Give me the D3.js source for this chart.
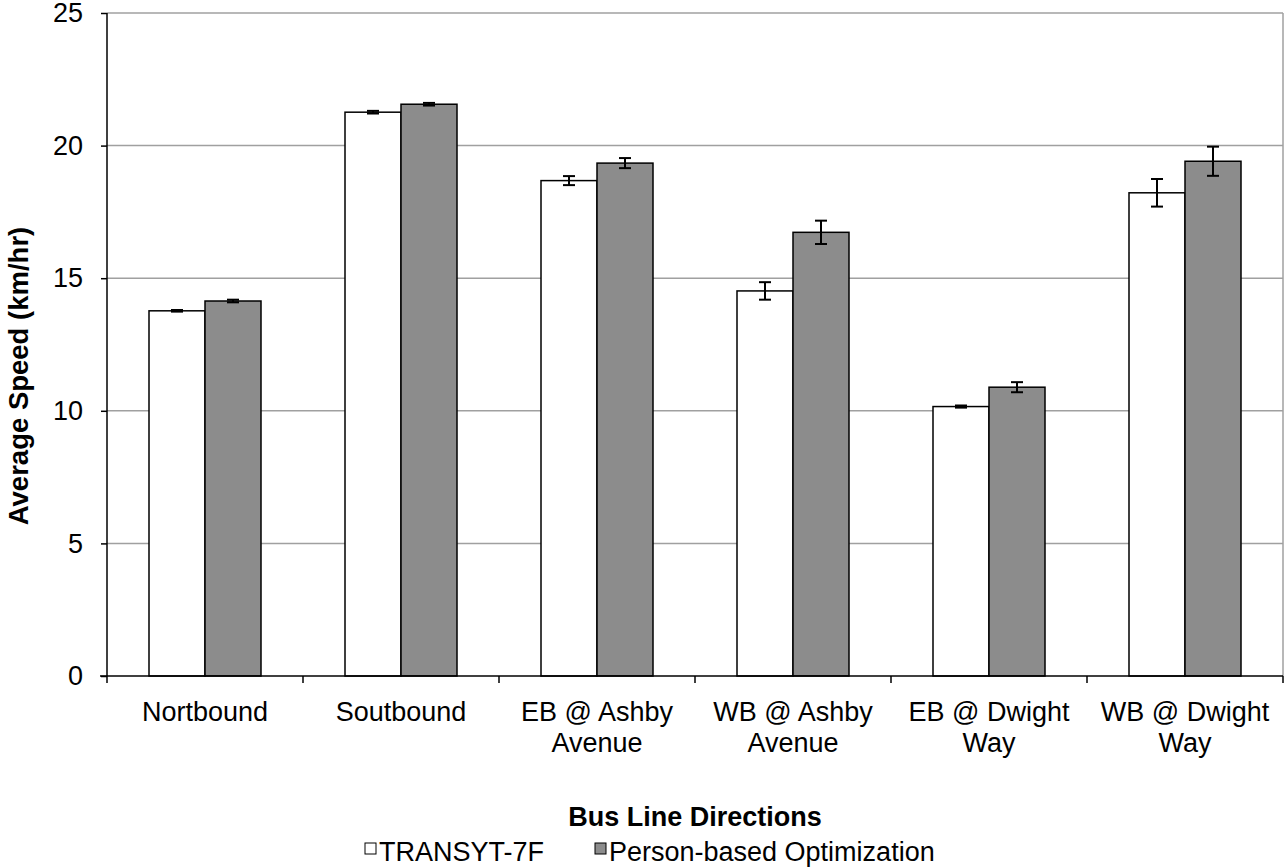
<!DOCTYPE html>
<html>
<head>
<meta charset="utf-8">
<script src="https://cdn.jsdelivr.net/npm/d3@7"></script>
<style>
  html, body { margin: 0; padding: 0; background: #fff; }
  svg { display: block; font-family: "Liberation Sans", Arial, sans-serif; }
</style>
</head>
<body>
<svg id="chart" width="1286" height="867"></svg>
<script>
const categories = [["Nortbound"], ["Soutbound"], ["EB @ Ashby", "Avenue"], ["WB @ Ashby", "Avenue"], ["EB @ Dwight", "Way"], ["WB @ Dwight", "Way"]];
const seriesNames = ["TRANSYT-7F", "Person-based Optimization"];
const transytValues = [13.77, 21.26, 18.68, 14.52, 10.16, 18.22];
const transytErrors = [0.03, 0.05, 0.17, 0.33, 0.04, 0.52];
const personValues = [14.14, 21.56, 19.34, 16.73, 10.89, 19.41];
const personErrors = [0.05, 0.05, 0.19, 0.44, 0.19, 0.55];
const yTicks = [0, 5, 10, 15, 20, 25];
const seriesColors = ["#ffffff", "#8c8c8c"];

const FS = 27;
const svg = d3.select("#chart");
const m = { left: 107, top: 13, right: 1283, bottom: 676 };

const catKeys = categories.map((c, i) => i);
const x = d3.scaleBand().domain(catKeys).range([m.left, m.right]).paddingInner(0).paddingOuter(0);
const inner = d3.scaleBand().domain([0, 1]).range([0, x.bandwidth()]).paddingOuter(0.75).paddingInner(0);
const y = d3.scaleLinear().domain([0, 25]).range([m.bottom, m.top]);

// gridlines
svg.append("g").selectAll("line").data(yTicks.filter(t => t > 0)).join("line")
  .attr("x1", m.left).attr("x2", m.right)
  .attr("y1", d => y(d)).attr("y2", d => y(d))
  .attr("stroke", "#a0a0a0").attr("stroke-width", 1.5);
// right border
svg.append("line").attr("x1", m.right).attr("x2", m.right).attr("y1", m.top).attr("y2", m.bottom)
  .attr("stroke", "#a0a0a0").attr("stroke-width", 1.5);

const series = [
  { vals: transytValues, errs: transytErrors, color: seriesColors[0] },
  { vals: personValues, errs: personErrors, color: seriesColors[1] }
];

series.forEach((s, si) => {
  svg.append("g").selectAll("rect").data(s.vals).join("rect")
    .attr("x", (d, i) => x(i) + inner(si))
    .attr("y", d => y(d))
    .attr("width", inner.bandwidth())
    .attr("height", d => y(0) - y(d))
    .attr("fill", s.color).attr("stroke", "#000").attr("stroke-width", 1.5);
});

series.forEach((s, si) => {
  const g = svg.append("g").attr("stroke", "#000").attr("stroke-width", 2);
  s.vals.forEach((v, i) => {
    const cx = x(i) + inner(si) + inner.bandwidth() / 2;
    const e = s.errs[i];
    g.append("line").attr("x1", cx).attr("x2", cx).attr("y1", y(v + e)).attr("y2", y(v - e));
    g.append("line").attr("x1", cx - 6).attr("x2", cx + 6).attr("y1", y(v + e)).attr("y2", y(v + e));
    g.append("line").attr("x1", cx - 6).attr("x2", cx + 6).attr("y1", y(v - e)).attr("y2", y(v - e));
  });
});

// y axis
const yAxis = svg.append("g").attr("transform", `translate(${m.left},0)`)
  .call(d3.axisLeft(y).tickValues(yTicks).tickSize(6).tickPadding(18));
yAxis.select(".domain").attr("stroke", "#000").attr("stroke-width", 1.5).attr("d", `M0,${m.top}V${m.bottom}`);
yAxis.selectAll(".tick line").attr("stroke", "#000").attr("stroke-width", 1.5);
yAxis.selectAll(".tick text").attr("font-size", FS).attr("fill", "#000")
  .attr("font-family", "Liberation Sans, Arial, sans-serif");

// x axis
const xAxisG = svg.append("g").attr("transform", `translate(0,${m.bottom})`);
xAxisG.append("line").attr("x1", m.left - 7).attr("x2", m.right).attr("y1", 0).attr("y2", 0)
  .attr("stroke", "#000").attr("stroke-width", 1.5);
const tickXs = catKeys.map(i => x(i)).concat([x(catKeys.length - 1) + x.bandwidth()]);
xAxisG.selectAll("line.t").data(tickXs).join("line").attr("class", "t")
  .attr("x1", d => d).attr("x2", d => d).attr("y1", 0).attr("y2", 7)
  .attr("stroke", "#000").attr("stroke-width", 1.5);
categories.forEach((lines, i) => {
  const cx = x(i) + x.bandwidth() / 2;
  const t = xAxisG.append("text").attr("text-anchor", "middle").attr("font-size", FS).attr("fill", "#000")
    .attr("x", cx).attr("y", 45);
  lines.forEach((ln, li) => {
    t.append("tspan").attr("x", cx).attr("dy", li === 0 ? 0 : 31).text(ln);
  });
});

// axis titles
svg.append("text").attr("transform", `translate(28,376) rotate(-90)`)
  .attr("text-anchor", "middle").attr("font-size", 27.5).attr("font-weight", "bold").text("Average Speed (km/hr)");
svg.append("text").attr("x", 695).attr("y", 826).attr("text-anchor", "middle")
  .attr("font-size", FS).attr("font-weight", "bold").text("Bus Line Directions");

// legend
const legendX = [365, 595];
seriesNames.forEach((name, i) => {
  svg.append("rect").attr("x", legendX[i]).attr("y", 843).attr("width", 11).attr("height", 11)
    .attr("fill", seriesColors[i]).attr("stroke", "#000").attr("stroke-width", 1);
  svg.append("text").attr("x", legendX[i] + 14).attr("y", 861).attr("font-size", FS).text(name);
});
</script>
</body>
</html>
